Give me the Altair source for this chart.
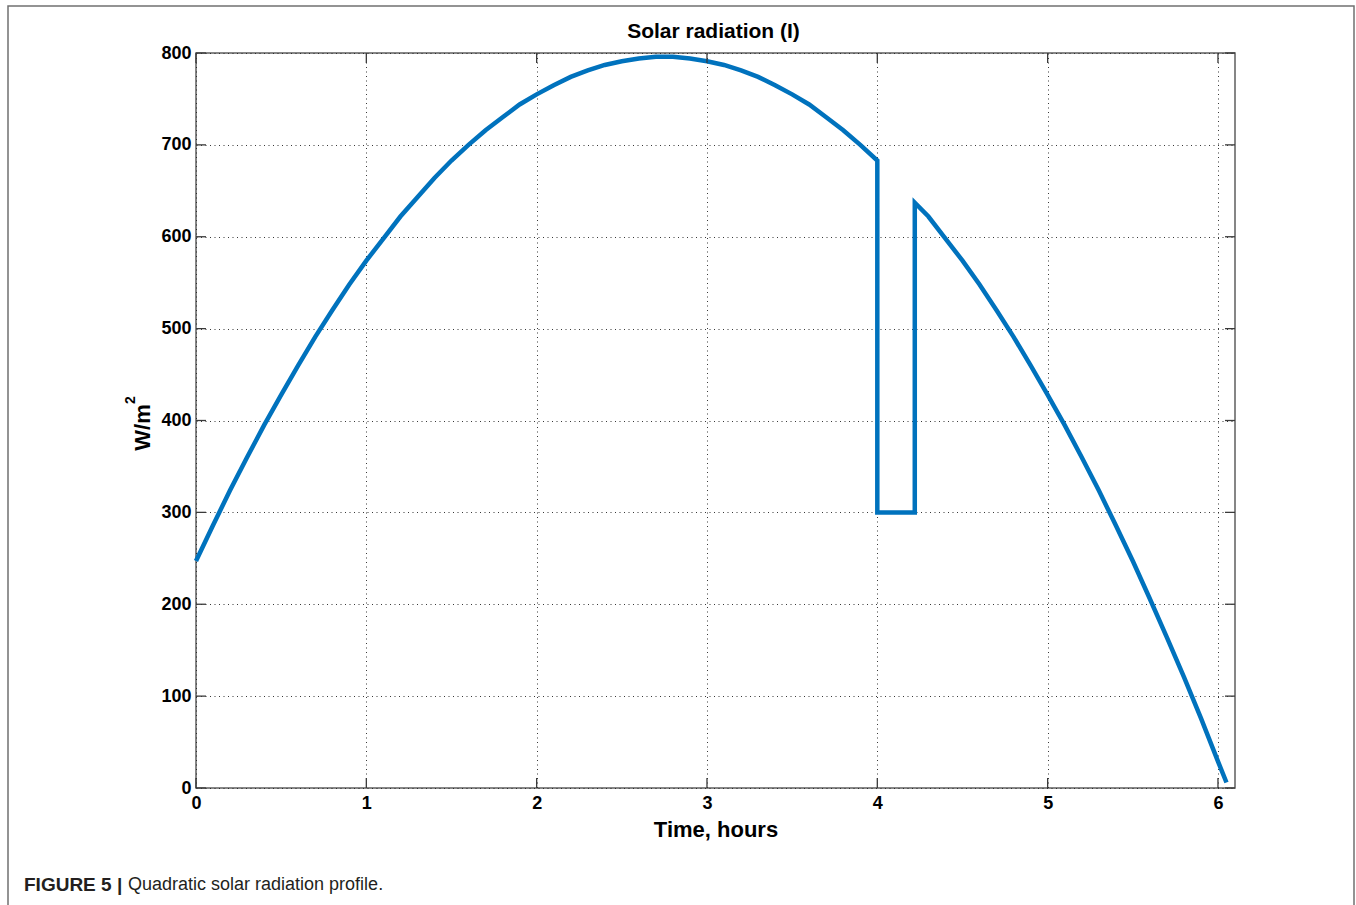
import altair as alt
import pandas as pd

# Solar radiation profile (W/m^2) over time (hours), with a cloud dip near t = 4
hours = [0.0, 0.1, 0.2, 0.3, 0.4, 0.5, 0.6, 0.7, 0.8, 0.9,
         1.0, 1.1, 1.2, 1.3, 1.4, 1.5, 1.6, 1.7, 1.8, 1.9,
         2.0, 2.1, 2.2, 2.3, 2.4, 2.5, 2.6, 2.7, 2.8, 2.9,
         3.0, 3.1, 3.2, 3.3, 3.4, 3.5, 3.6, 3.7, 3.8, 3.9,
         4.0, 4.0, 4.22, 4.22, 4.3, 4.4, 4.5, 4.6, 4.7, 4.8, 4.9,
         5.0, 5.1, 5.2, 5.3, 5.4, 5.5, 5.6, 5.7, 5.8, 5.9,
         6.0, 6.05]
irradiance = [247, 286, 324, 360, 395, 428, 460, 491, 520, 548,
              574, 598, 622, 643, 664, 683, 700, 716, 730, 744,
              755, 765, 774, 781, 787, 791, 794, 796, 796, 794,
              791, 787, 781, 774, 765, 755, 744, 730, 716, 700,
              683, 300, 300, 637, 622, 598, 574, 548, 520, 491, 460,
              428, 395, 360, 324, 286, 247, 206, 164, 121, 76,
              29, 6]

x_ticks = [0, 1, 2, 3, 4, 5, 6]
y_ticks = [0, 100, 200, 300, 400, 500, 600, 700, 800]

title_text = "Solar radiation (I)"
x_title = "Time, hours"
y_title = "W/m"
y_title_sup = "2"
caption_bold = "FIGURE 5 |"
caption_text = "Quadratic solar radiation profile."

W, H = 1039, 735
FONT = "Liberation Sans"
TICK_LEN = 10
TICK_COLOR = "#3a3a3a"

profile = pd.DataFrame({"t": hours, "I": irradiance, "seq": list(range(len(hours)))})
xt = pd.DataFrame({"t": x_ticks})
yt = pd.DataFrame({"I": y_ticks})
one = pd.DataFrame({"k": [0]})

x_scale = alt.Scale(domain=[0, 6.1], nice=False, zero=False)
y_scale = alt.Scale(domain=[0, 800], nice=False)

grid_style = dict(grid=True, gridDash=[1, 3.5], gridColor="#222222", gridWidth=1,
                  gridOpacity=0.9, ticks=False, domain=False, labelFlush=False,
                  labelFont=FONT, labelFontSize=18, labelFontWeight="bold",
                  labelColor="black", titleFont=FONT,
                  titleFontWeight="bold", titleColor="black")

x_axis = alt.Axis(values=x_ticks, format="d", title=x_title, labelPadding=6,
                  titleFontSize=22, titleY=41, titleBaseline="middle", **grid_style)
y_axis = alt.Axis(values=y_ticks, format="d", title=y_title, labelPadding=5,
                  titleFontSize=22, titleX=-54, titleY=374, titleAngle=-90,
                  titleBaseline="middle", **grid_style)

X = alt.X("t:Q", scale=x_scale, axis=x_axis)
Y = alt.Y("I:Q", scale=y_scale, axis=y_axis)

line = alt.Chart(profile).mark_line(
    color="#0072BD", strokeWidth=4.5, strokeJoin="miter", strokeCap="butt"
).encode(x=X, y=Y, order=alt.Order("seq:Q"))

# inward tick marks on all four sides of the plot box
def xtick(y0, y1):
    return alt.Chart(xt).mark_rule(color=TICK_COLOR, strokeWidth=1.3).encode(
        x=X, y=alt.value(y0), y2=alt.value(y1))

def ytick(x0, x1):
    return alt.Chart(yt).mark_rule(color=TICK_COLOR, strokeWidth=1.3).encode(
        y=Y, x=alt.value(x0), x2=alt.value(x1))

ticks = [xtick(H, H - TICK_LEN), xtick(0, TICK_LEN),
         ytick(0, TICK_LEN), ytick(W, W - TICK_LEN)]

# superscript of the unit in the y-axis title
sup = alt.Chart(one).mark_text(
    text=y_title_sup, font=FONT, fontSize=14, fontWeight="bold", angle=270,
    color="black", align="center", baseline="middle"
).encode(x=alt.value(-65), y=alt.value(347))

title = alt.Chart(one).mark_text(
    text=title_text, font=FONT, fontSize=21, fontWeight="bold",
    color="black", align="center", baseline="alphabetic"
).encode(x=alt.value(W / 2 - 2), y=alt.value(-15))

cap1 = alt.Chart(one).mark_text(
    text=caption_bold, font=FONT, fontSize=19, fontWeight="bold",
    color="#231f20", align="left", baseline="middle"
).encode(x=alt.value(-172), y=alt.value(832))

cap2 = alt.Chart(one).mark_text(
    text=caption_text, font=FONT, fontSize=18,
    color="#231f20", align="left", baseline="middle"
).encode(x=alt.value(-68), y=alt.value(832))

# figure frame around the whole panel
frame = alt.Chart(one).mark_rect(
    fill="white", fillOpacity=0, stroke="#707070", strokeWidth=1.5
).encode(x=alt.value(-188), x2=alt.value(1158),
         y=alt.value(-47), y2=alt.value(H + 140))

chart = alt.layer(line, *ticks, sup, title, cap1, cap2, frame).properties(
    width=W, height=H,
    autosize=alt.AutoSizeParams(type="none"),
    padding={"left": 196, "top": 53, "right": 121, "bottom": 117},
    background="white",
).configure_view(stroke="#5f5f5f", strokeWidth=1.5)

chart.save("out.html", embed_options={"renderer": "svg", "actions": False})
